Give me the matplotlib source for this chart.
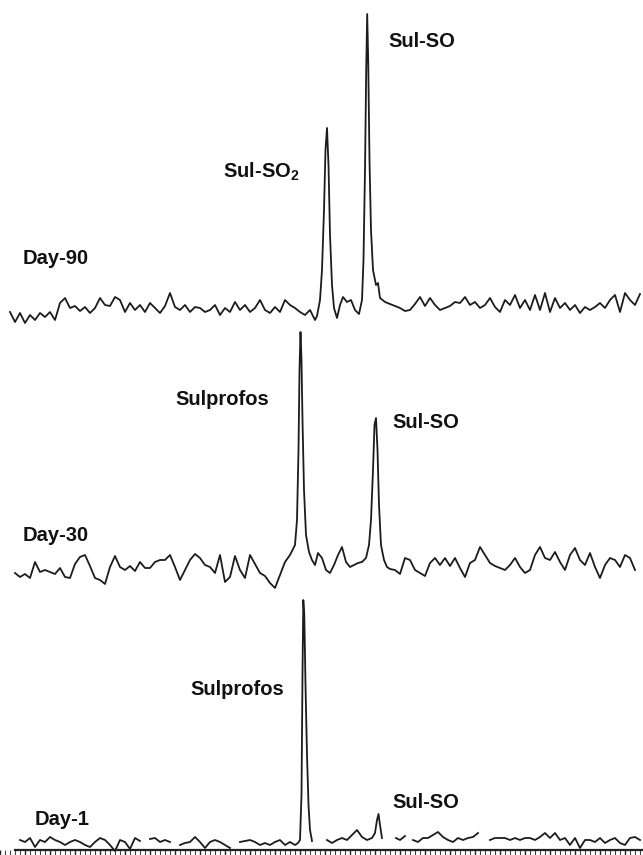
import numpy as np
import matplotlib.pyplot as plt
from matplotlib.ticker import MultipleLocator, NullFormatter

nan = np.nan

# retention position (recorder chart units) and detector signal
day90_left_x = np.arange(10, 320, 5)
day90_left_s = [18, 8, 17, 7, 15, 10, 17, 13, 18, 10,
                27, 32, 22, 24, 19, 23, 17, 22, 32, 25,
                24, 33, 30, 18, 27, 20, 25, 18, 27, 22,
                17, 24, 37, 23, 20, 25, 18, 23, 22, 18,
                20, 25, 15, 22, 18, 28, 20, 25, 18, 22,
                30, 20, 17, 23, 18, 30, 25, 22, 18, 15,
                20, 10]
day90_peak_x = [317, 320, 322, 324, 325.5, 327, 328.5, 330, 332, 334,
                337, 340, 343, 347, 351, 355, 359, 362, 363.5, 365,
                366.2, 367.2, 368.2, 369.5, 371, 373, 376, 378, 380]
day90_peak_s = [14, 30, 60, 120, 180, 202, 165, 95, 45, 22,
                12, 25, 33, 28, 30, 20, 16, 30, 70, 160,
                260, 316, 270, 170, 100, 60, 45, 47, 32]
day90_right_x = np.arange(385, 645, 5)
day90_right_s = [28, 26, 24, 22, 19, 20, 26, 33, 24, 32,
                 25, 20, 22, 24, 28, 27, 33, 25, 28, 22,
                 25, 32, 23, 18, 30, 25, 35, 22, 30, 20,
                 35, 20, 37, 18, 32, 22, 27, 20, 25, 17,
                 23, 20, 23, 27, 22, 30, 35, 18, 37, 30,
                 25, 36]

day30_left_x = np.arange(15, 300, 5)
day30_left_s = [27, 23, 26, 22, 38, 28, 30, 28, 26, 32,
                23, 22, 36, 43, 45, 34, 22, 20, 16, 33,
                44, 33, 30, 34, 29, 38, 32, 32, 38, 40,
                40, 45, 33, 20, 30, 40, 46, 42, 35, 33,
                27, 45, 18, 23, 44, 30, 22, 45, 36, 27,
                24, 17, 12, 25, 38, 45, 55]
day30_peak_x = [297, 298.5, 299.5, 300.5, 301.5, 302.5, 304, 306, 309, 312,
                315, 318, 322, 326, 330, 334, 338, 342, 346, 350,
                354, 358, 362, 366, 369, 371, 373, 374.5, 376, 377.5,
                379, 381, 384, 387]
day30_peak_s = [80, 150, 230, 268, 240, 180, 110, 65, 48, 40,
                35, 47, 42, 30, 27, 35, 45, 53, 38, 33,
                35, 37, 38, 42, 55, 80, 130, 175, 182, 150,
                95, 55, 40, 33]
day30_right_x = np.arange(390, 640, 5)
day30_right_s = [31, 30, 26, 42, 40, 30, 27, 24, 37, 42,
                 35, 42, 34, 42, 32, 23, 37, 40, 53, 45,
                 37, 34, 32, 30, 35, 42, 33, 27, 30, 45,
                 53, 42, 40, 48, 38, 30, 45, 52, 40, 35,
                 47, 33, 22, 35, 42, 40, 33, 45, 42, 30]

day1_left_x = np.arange(20, 300, 5)
day1_left_s = [15, 13, 17, 8, 15, 13, 18, 15, 13, 10,
               13, 15, 13, 10, 8, 13, 17, 15, 10, 4,
               15, 13, 6, 17, 14, nan, 16, 17, 13, 15,
               13, nan, 10, 12, 13, 18, 13, 7, 13, 15,
               13, 10, 7, nan, 13, 14, 15, 13, 10, 12,
               10, 13, 15, 10, 13, 10]
day1_mid_x = [298, 300, 301.5, 302.5, 303.3, 304.3, 305.5, 307, 308.5, 310,
              312, 315, 327, 332, 337, 342, 347, 352, 357, 362,
              367, 372, 375, 377, 378.5, 380, 382, 388, 396, 400,
              405, 409, 413, 418, 423, 428, 433, 438, 443, 448,
              453, 458, 463, 468, 473, 478, 484, 490]
day1_mid_s = [12, 15, 60, 180, 255, 240, 170, 100, 50, 25,
              14, nan, 15, 12, 15, 17, 15, 20, 25, 18,
              15, 17, 22, 35, 41, 30, 17, nan, 17, 15,
              19, nan, 15, 13, 17, 17, 20, 23, 18, 15,
              13, 17, 15, 17, 18, 22, nan, 15]
day1_right_x = np.arange(495, 645, 5)
day1_right_s = [17, 17, 17, 15, 17, 15, 17, 17, 15, 18,
                22, 17, 22, 15, 17, 10, 17, 7, 15, 15,
                13, 17, 12, 15, 17, 12, 10, 17, 18, 15]

plt.rcParams['font.family'] = ['Liberation Sans', 'DejaVu Sans']
plt.rcParams['mathtext.fontset'] = 'custom'
plt.rcParams['mathtext.bf'] = 'Liberation Sans:bold'
plt.rcParams['mathtext.rm'] = 'Liberation Sans'

W, H = 643, 855
fig = plt.figure(figsize=(W / 100, H / 100), dpi=100)


def band(top, bottom):
    # axes covering a horizontal strip of the figure (pixel rows top..bottom)
    ax = fig.add_axes([0, 1 - bottom / H, 1, (bottom - top) / H])
    ax.set_xlim(0, W)
    ax.set_ylim(0, bottom - top)
    ax.patch.set_alpha(0)
    for sp in ax.spines.values():
        sp.set_visible(False)
    ax.set_xticks([])
    ax.set_yticks([])
    return ax


def trace(ax, xs, ss):
    x = np.concatenate([np.asarray(v, float) for v in xs])
    s = np.concatenate([np.asarray(v, float) for v in ss])
    ax.plot(x, s, color='#1c1c1c', lw=1.3, clip_on=False, solid_joinstyle='round')


lab = dict(fontsize=14.5, fontweight='bold', ha='left', va='baseline', color='#111111')

ax90 = band(0, 330)
trace(ax90, [day90_left_x, day90_peak_x, day90_right_x],
      [day90_left_s, day90_peak_s, day90_right_s])
ax90.text(388, 283, 'Sul-SO', **lab)
ax90.text(223, 152, r'Sul-SO$_\mathbf{2}$', **lab)
ax90.text(23, 66, 'Day-90', **lab)

ax30 = band(320, 600)
trace(ax30, [day30_left_x, day30_peak_x, day30_right_x],
      [day30_left_s, day30_peak_s, day30_right_s])
ax30.text(175, 195, 'Sulprofos', **lab)
ax30.text(392, 172, 'Sul-SO', **lab)
ax30.text(23, 59, 'Day-30', **lab)

ax1 = band(590, 855)
trace(ax1, [day1_left_x, day1_mid_x, day1_right_x],
      [day1_left_s, day1_mid_s, day1_right_s])
ax1.text(190, 160, 'Sulprofos', **lab)
ax1.text(392, 47, 'Sul-SO', **lab)
ax1.text(35, 30, 'Day-1', **lab)

# recorder time ruler under the bottom trace
ax1.spines['bottom'].set_visible(True)
ax1.spines['bottom'].set_position(('data', 5))
ax1.spines['bottom'].set_bounds(15, W)
ax1.spines['bottom'].set_linewidth(1.6)
ax1.spines['bottom'].set_color('#222222')
ax1.xaxis.set_major_locator(MultipleLocator(25))
ax1.xaxis.set_minor_locator(MultipleLocator(5))
ax1.xaxis.set_major_formatter(NullFormatter())
ax1.tick_params(axis='x', which='major', direction='out', length=7, width=1.0, color='#222222')
ax1.tick_params(axis='x', which='minor', direction='out', length=5, width=0.8, color='#444444')

fig.savefig('out.png', dpi=100)
